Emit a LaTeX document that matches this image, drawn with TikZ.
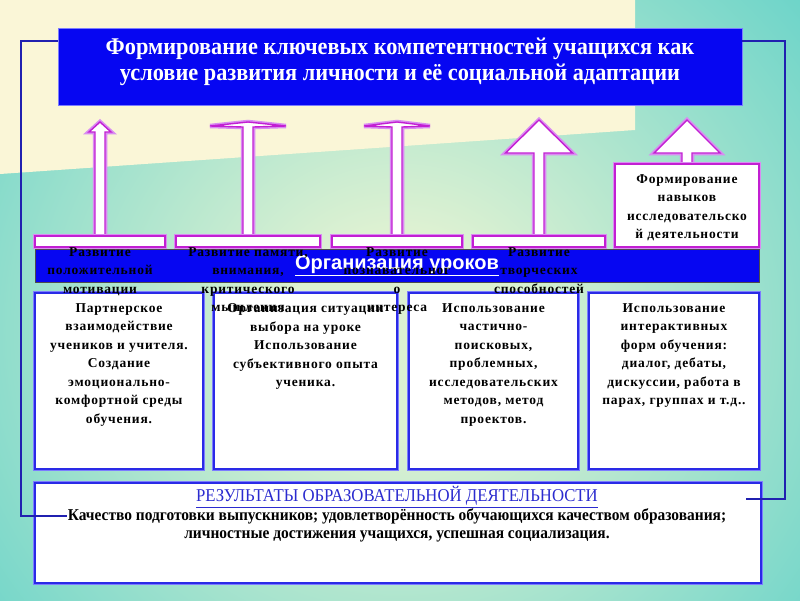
\documentclass[tikz,border=0pt]{standalone}
\usepackage{fontspec}
\setmainfont{Liberation Serif}
\setsansfont{Liberation Sans}
\newfontfamily\cardfont[LetterSpace=6]{Liberation Serif}
\newfontfamily\narrowfont[FakeStretch=0.93]{Liberation Serif}
\usetikzlibrary{calc}

\definecolor{bandblue}{HTML}{0606F2}
\definecolor{lineblue}{HTML}{2020B0}
\definecolor{boxrim}{HTML}{7C7CFF}
\definecolor{boxedge}{HTML}{2A2AE6}
\definecolor{pinkrim}{HTML}{D98CF2}
\definecolor{pinkedge}{HTML}{C21FD2}
\definecolor{cream}{HTML}{FAF6D7}
\definecolor{tealout}{HTML}{45CAC6}
\definecolor{mintin}{HTML}{DDF1D2}
\definecolor{headblue}{HTML}{2B2BCF}
\pgfdeclareradialshading{bgglow}{\pgfpoint{0bp}{0bp}}{color(0bp)=(mintin); color(6bp)=(mintin); color(38bp)=(tealout); color(50bp)=(tealout)}

\tikzset{
  bluebox/.style={fill=white, draw=boxedge, line width=1.2pt, preaction={draw=boxrim, line width=4pt}, inner sep=0pt},
  pinkbox/.style={fill=white, draw=pinkedge, line width=1.2pt, preaction={draw=pinkrim, line width=4pt}, inner sep=0pt},
  pinkarrow/.style={fill=white, draw=pinkedge, line width=1.4pt, preaction={draw=pinkrim, line width=4.5pt}, line join=miter},
  cardtext/.style={anchor=north, align=center, inner sep=0pt, font=\cardfont\bfseries\fontsize{13.5}{18.5}\selectfont},
  linkline/.style={draw=lineblue, line width=2.2pt}
}

\begin{document}
\begin{tikzpicture}[x=1pt, y=-1pt]
	% background
	\useasboundingbox (0,0) rectangle (800,600);
	\clip (0,0) rectangle (800,600);
	\shade[shading=bgglow] (-50,-100) rectangle (850,760);
	\fill[cream] (0,0) -- (635,0) -- (635,130) -- (0,174) -- cycle;

	% aim
	\node[fill=bandblue, draw=boxrim, line width=0.8pt, minimum width=684, minimum height=77, text=white, font=\narrowfont\bfseries\fontsize{24}{26}\selectfont] (title) at (400,66.5) {\raisebox{4pt}[\height][\depth]{\begin{tabular}{@{}c@{}}Формирование ключевых компетентностей учащихся как\\условие развития личности и её социальной адаптации\end{tabular}}};

	% arrows up to the aim
	\coordinate (l1b) at (100,236);
	\coordinate (l2b) at (248,236);
	\coordinate (l3b) at (397,236);
	\coordinate (l4b) at (539,236);
	\coordinate (l5b) at (687,164);
	\draw[pinkarrow] ([xshift=-5pt]l1b) -- ++(0,-104) -- ++(-6,0) -- ++(11,-10) -- ++(11,10) -- ++(-6,0) -- ++(0,104) -- cycle;
	\draw[pinkarrow] ([xshift=-5pt]l2b) -- ++(0,-109) -- ++(-33,-1) -- ++(38,-4) -- ++(38,4) -- ++(-33,1) -- ++(0,109) -- cycle;
	\draw[pinkarrow] ([xshift=-5pt]l3b) -- ++(0,-109) -- ++(-28,-1) -- ++(33,-4) -- ++(33,4) -- ++(-28,1) -- ++(0,109) -- cycle;
	\draw[pinkarrow] ([xshift=-5pt]l4b) -- ++(0,-83) -- ++(-28.5,0) -- ++(33.5,-33) -- ++(33.5,33) -- ++(-28.5,0) -- ++(0,83) -- cycle;
	\draw[pinkarrow] ([xshift=-5pt]l5b) -- ++(0,-11) -- ++(-28,0) -- ++(33,-33) -- ++(33,33) -- ++(-28,0) -- ++(0,11) -- cycle;

	% lessons band
	\node[fill=bandblue, draw=black!70, line width=0.8pt, minimum width=724, minimum height=33, text=white, font=\sffamily\bfseries\fontsize{20}{22}\selectfont] (band) at (397,265.5) {\underline{Организация уроков}};

	% methods
	\node[bluebox, minimum width=168, minimum height=176] (m1) at (119,381) {};
	\node[bluebox, minimum width=183, minimum height=176] (m2) at (305.5,381) {};
	\node[bluebox, minimum width=169, minimum height=176] (m3) at (493.5,381) {};
	\node[bluebox, minimum width=170, minimum height=176] (m4) at (674,381) {};
	\node[cardtext] (m1t) at ([yshift=-11pt]m1.north) {Партнерское\\взаимодействие\\учеников и учителя.\\Создание\\эмоционально-\\комфортной среды\\обучения.};
	\node[cardtext] (m2t) at ([yshift=-11pt]m2.north) {Организация ситуации\\выбора на уроке\\Использование\\субъективного опыта\\ученика.};
	\node[cardtext] (m3t) at ([yshift=-11pt]m3.north) {Использование\\частично-\\поисковых,\\проблемных,\\исследовательских\\методов, метод\\проектов.};
	\node[cardtext] (m4t) at ([yshift=-11pt]m4.north) {Использование\\интерактивных\\форм обучения:\\диалог, дебаты,\\дискуссии, работа в\\парах, группах и т.д..};

	% developments
	\node[pinkbox, minimum width=130, minimum height=11] (l1) at (100,241.5) {};
	\node[pinkbox, minimum width=144, minimum height=11] (l2) at (248,241.5) {};
	\node[pinkbox, minimum width=130, minimum height=11] (l3) at (397,241.5) {};
	\node[pinkbox, minimum width=132, minimum height=11] (l4) at (539,241.5) {};
	\node[pinkbox, minimum width=144, minimum height=83] (l5) at (687,205.5) {};
	\node[cardtext] (l1t) at ([yshift=-12pt]l1.north) {Развитие\\положительной\\мотивации};
	\node[cardtext] (l2t) at ([yshift=-12pt]l2.north) {Развитие памяти,\\внимания,\\критического\\мышления};
	\node[cardtext] (l3t) at ([yshift=-12pt]l3.north) {Развитие\\познавательног\\о\\интереса};
	\node[cardtext] (l4t) at ([yshift=-12pt]l4.north) {Развитие\\творческих\\способностей};
	\node[cardtext] (l5t) at ([yshift=-11pt]l5.north) {Формирование\\навыков\\исследовательско\\й деятельности};

	% results
	\node[bluebox, minimum width=726, minimum height=100] (res) at (398,533) {};
	\node[text=headblue, font=\narrowfont\fontsize{18}{20}\selectfont, inner sep=1pt] (rhead) at (397,497) {\underline{РЕЗУЛЬТАТЫ ОБРАЗОВАТЕЛЬНОЙ ДЕЯТЕЛЬНОСТИ}};
	\node[font=\narrowfont\bfseries\fontsize{16.6}{19}\selectfont, inner sep=1pt] (rline1) at (397,516) {Качество подготовки выпускников; удовлетворённость обучающихся качеством образования;};
	\node[font=\narrowfont\bfseries\fontsize{16.6}{19}\selectfont, inner sep=1pt] (rline2) at (397,536) {личностные достижения учащихся, успешная социализация.};

	% frame lines
	\coordinate (lt) at (21,41);
	\coordinate (rt) at (785,41);
	\coordinate (rend) at (746,499);
	\draw[linkline] (title.north west |- lt) -- (lt) |- (rline1.west);
	\draw[linkline] (title.north east |- rt) -- (rt) |- (rend);
\end{tikzpicture}
\end{document}
